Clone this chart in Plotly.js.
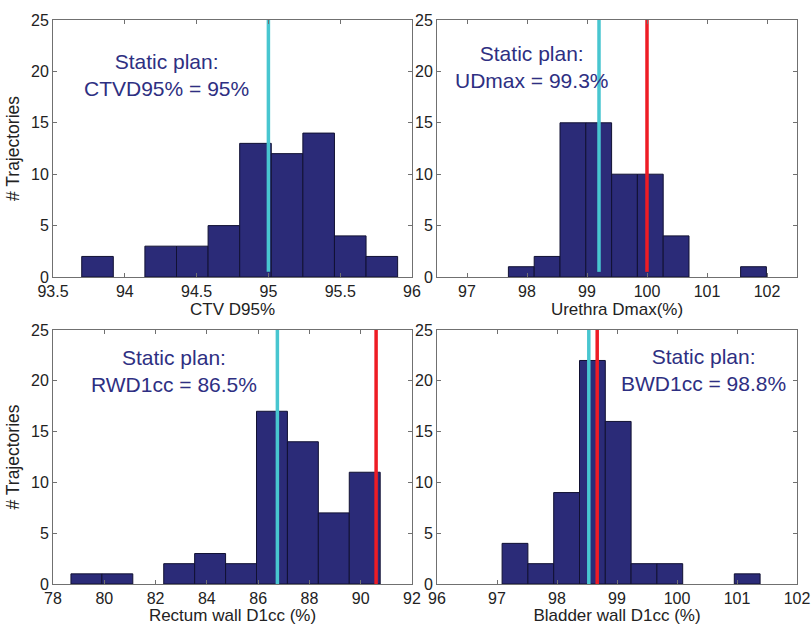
<!DOCTYPE html>
<html><head><meta charset="utf-8">
<script src="https://cdn.plot.ly/plotly-3.0.1.min.js"></script>
<style>html,body{margin:0;padding:0;background:#fff}</style>
</head><body><div id="chart" style="width:811px;height:625px"></div>
<script>
// ---- data ----
const ctvCenters = [93.81, 94.03, 94.25, 94.47, 94.69, 94.91, 95.13, 95.35, 95.57, 95.79];
const ctvCounts  = [2, 0, 3, 3, 5, 13, 12, 14, 4, 2];
const ctvWidth = 0.22;
const ctvStatic = 95.0;

const urethraCenters = [97.905, 98.335, 98.765, 99.195, 99.625, 100.055, 100.485, 100.915, 101.345, 101.775];
const urethraCounts  = [1, 2, 15, 15, 10, 10, 4, 0, 0, 1];
const urethraWidth = 0.43;
const urethraStatic = 99.2;
const urethraLimit = 100.0;

const rectumCenters = [79.303, 80.509, 81.715, 82.921, 84.127, 85.333, 86.539, 87.745, 88.951, 90.157];
const rectumCounts  = [1, 1, 0, 2, 3, 2, 17, 14, 7, 11];
const rectumWidth = 1.206;
const rectumStatic = 86.75;
const rectumLimit = 90.6;

const bladderCenters = [97.30, 97.73, 98.16, 98.59, 99.02, 99.45, 99.88, 100.31, 100.74, 101.17];
const bladderCounts  = [4, 2, 9, 22, 16, 2, 2, 0, 0, 1];
const bladderWidth = 0.43;
const bladderStatic = 98.53;
const bladderLimit = 98.67;

const xTitles = ["CTV D95%", "Urethra Dmax(%)", "Rectum wall D1cc (%)", "Bladder wall D1cc (%)"];
const yTitle = "# Trajectories";
const notes = ["Static plan:<br>CTVD95% = 95%", "Static plan:<br>UDmax = 99.3%",
               "Static plan:<br>RWD1cc = 86.5%", "Static plan:<br>BWD1cc = 98.8%"];
const lineBottoms = [0.5, 0.5, 0, 0];
const lineTop = 25;

// ---- styling ----
const barFill = '#2b2b78';
const barEdge = '#111133';
const cyan = '#48c6d0';
const red = '#ee1c25';
const noteColor = '#2e2f82';
const frame = '#707070';
const FONT = 'Liberation Sans, Arial, sans-serif';

function bars(x, y, w, ax) {
  return {type: 'bar', x: x, y: y, width: w, xaxis: 'x' + ax, yaxis: 'y' + ax,
    marker: {color: barFill, line: {color: barEdge, width: y.map(c => c > 0 ? 1 : 0)}}, hoverinfo: 'x+y'};
}
function vline(v, y0, color, ax) {
  return {type: 'scatter', mode: 'lines', x: [v, v], y: [y0, lineTop], xaxis: 'x' + ax, yaxis: 'y' + ax,
    line: {color: color, width: 3.5}, hoverinfo: 'x'};
}

const data = [
  bars(ctvCenters, ctvCounts, ctvWidth, ''),
  vline(ctvStatic, lineBottoms[0], cyan, ''),
  bars(urethraCenters, urethraCounts, urethraWidth, '2'),
  vline(urethraStatic, lineBottoms[1], cyan, '2'),
  vline(urethraLimit, lineBottoms[1], red, '2'),
  bars(rectumCenters, rectumCounts, rectumWidth, '3'),
  vline(rectumStatic, lineBottoms[2], cyan, '3'),
  vline(rectumLimit, lineBottoms[2], red, '3'),
  bars(bladderCenters, bladderCounts, bladderWidth, '4'),
  vline(bladderStatic, lineBottoms[3], cyan, '4'),
  vline(bladderLimit, lineBottoms[3], red, '4')
];

function xax(domain, range, dtick, title, anchor) {
  return {domain: domain, range: range, dtick: dtick, tick0: 0, anchor: anchor,
    showgrid: false, zeroline: false, showline: true, linecolor: frame, linewidth: 1,
    mirror: 'ticks', ticks: 'inside', ticklen: 4, tickcolor: frame,
    tickfont: {family: FONT, size: 16, color: '#222'},
    title: {text: title, font: {family: FONT, size: 17, color: '#222'}, standoff: 3}};
}
function yax(domain, title, anchor) {
  return {domain: domain, range: [0, 25], dtick: 5, tick0: 0, anchor: anchor,
    showgrid: false, zeroline: false, showline: true, linecolor: frame, linewidth: 1,
    mirror: 'ticks', ticks: 'inside', ticklen: 4, tickcolor: frame,
    tickfont: {family: FONT, size: 16, color: '#222'},
    title: {text: title, font: {family: FONT, size: 17.5, color: '#222'}, standoff: 6}};
}

const W = 811, H = 625;
const dxL = [53 / W, 412 / W], dxR = [437 / W, 797 / W];
const dyT = [1 - 277 / H, 1 - 20 / H], dyB = [1 - 584 / H, 1 - 330 / H];

function note(text, x, y, ax) {
  return {text: text, x: x, y: y, xref: 'x' + ax, yref: 'y' + ax, showarrow: false,
    xanchor: 'center', yanchor: 'middle', align: 'center',
    font: {family: FONT, size: 21, color: noteColor}};
}

const layout = {
  width: W, height: H, showlegend: false, bargap: 0,
  paper_bgcolor: '#fff', plot_bgcolor: '#fff',
  margin: {l: 0, r: 0, t: 0, b: 0},
  xaxis: xax(dxL, [93.5, 96], 0.5, xTitles[0], 'y'),
  yaxis: yax(dyT, yTitle, 'x'),
  xaxis2: xax(dxR, [96.5, 102.5], 1, xTitles[1], 'y2'),
  yaxis2: yax(dyT, '', 'x2'),
  xaxis3: xax(dxL, [78, 92], 2, xTitles[2], 'y3'),
  yaxis3: yax(dyB, yTitle, 'x3'),
  xaxis4: xax(dxR, [96, 102], 1, xTitles[3], 'y4'),
  yaxis4: yax(dyB, '', 'x4'),
  annotations: [
    note(notes[0], 94.29, 19.65, ''),
    note(notes[1], 98.08, 20.4, '2'),
    note(notes[2], 82.7, 21.0, '3'),
    note(notes[3], 100.44, 21.1, '4')
  ]
};

Plotly.newPlot('chart', data, layout, {staticPlot: true, displayModeBar: false});
</script>
</body></html>
